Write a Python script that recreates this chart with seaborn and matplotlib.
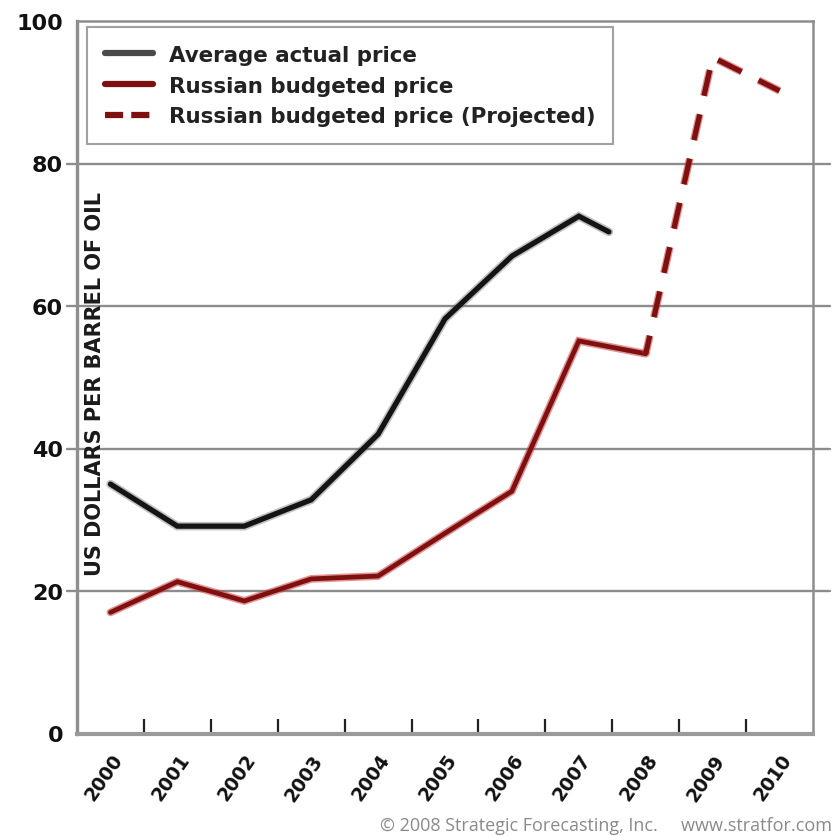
import matplotlib
matplotlib.use("Agg")
import matplotlib.pyplot as plt
import matplotlib.patheffects as pe
import matplotlib.transforms as mtransforms
from matplotlib import font_manager
import numpy as np
import pandas as pd
import seaborn as sns

# Oil price series (US dollars per barrel)
actual_years = [2000, 2001, 2002, 2003, 2004, 2005, 2006, 2007, 2007.45]
actual_price = [35.0, 29.1, 29.1, 32.8, 42.0, 58.2, 67.0, 72.6, 70.4]

budget_years = [2000, 2001, 2002, 2003, 2004, 2005, 2006, 2007, 2008]
budget_price = [17.0, 21.3, 18.6, 21.7, 22.1, 28.1, 34.0, 55.1, 53.3]

projected_years = [2008, 2009, 2010]
projected_price = [53.3, 94.9, 90.2]

year_labels = [str(y) for y in range(2000, 2011)]
y_ticks = [0, 20, 40, 60, 80, 100]
grid_levels = [20, 40, 60, 80]

sns.set_theme(style="white")
plt.rcParams["font.family"] = ["DejaVu Sans"]

installed = {f.name for f in font_manager.fontManager.ttflist}
credit_font = "Liberation Sans Narrow" if "Liberation Sans Narrow" in installed else "Open Sans"

fig = plt.figure(figsize=(8.35, 8.37), dpi=100)
ax = fig.add_axes([77 / 835, 1 - 734.5 / 837, 736 / 835, 712.5 / 837])

df_actual = pd.DataFrame({"year": actual_years, "price": actual_price})
df_budget = pd.DataFrame({"year": budget_years, "price": budget_price})
df_proj = pd.DataFrame({"year": projected_years, "price": projected_price})

black_fx = [pe.Stroke(linewidth=6.2, foreground="#666666", alpha=0.4),
            pe.Normal()]
red_fx = [pe.Stroke(linewidth=5.6, foreground="#cf3a3a", alpha=0.55),
          pe.Normal()]

sns.lineplot(data=df_actual, x="year", y="price", ax=ax, color="#141414",
             linewidth=3.8, estimator=None, sort=False, zorder=5,
             label="Average actual price")
ax.lines[-1].set_path_effects(black_fx)
ax.lines[-1].set_solid_joinstyle("miter")

sns.lineplot(data=df_budget, x="year", y="price", ax=ax, color="#7e1010",
             linewidth=3.4, estimator=None, sort=False, zorder=5,
             label="Russian budgeted price")
ax.lines[-1].set_path_effects(red_fx)
ax.lines[-1].set_solid_joinstyle("miter")

sns.lineplot(data=df_proj, x="year", y="price", ax=ax, color="#7e1010",
             linewidth=3.8, estimator=None, sort=False, zorder=5,
             label="Russian budgeted price (Projected)")
ax.lines[-1].set_linestyle((1.5, (5.0, 3.6)))
ax.lines[-1].set_path_effects(red_fx)
ax.lines[-1].set_dash_joinstyle("miter")

ax.set_xlim(1999.5, 2010.5)
ax.set_ylim(0, 100)

# horizontal reference lines, running slightly past the frame
for lvl in grid_levels:
    ax.axhline(lvl, xmin=-0.0136, xmax=1.023, clip_on=False,
               color="#8c8c8c", linewidth=1.7, zorder=1)

for side in ["left", "right", "top", "bottom"]:
    ax.spines[side].set_color("#8e8e8e")
    ax.spines[side].set_linewidth(1.8)
ax.spines["bottom"].set_linewidth(3.0)
ax.spines["bottom"].set_color("#9a9a9a")
ax.spines["left"].set_linewidth(2.4)

ax.set_yticks(y_ticks)
ax.set_yticklabels([str(v) for v in y_ticks], fontsize=16, fontweight="bold",
                   color="#111111")
ax.tick_params(axis="y", length=0, pad=10)

years = list(range(2000, 2011))
ax.set_xticks(years)
ax.set_xticklabels(year_labels, fontsize=13.5, fontweight="bold",
                   color="#111111", rotation=55, ha="right",
                   rotation_mode="anchor", va="center")
ax.tick_params(axis="x", which="major", length=0, pad=16)
shift = mtransforms.ScaledTranslation(8 / 100, 0, fig.dpi_scale_trans)
for lbl in ax.get_xticklabels():
    lbl.set_transform(lbl.get_transform() + shift)

ax.set_xticks([y + 0.5 for y in range(2000, 2010)], minor=True)
ax.tick_params(axis="x", which="minor", direction="in", length=11,
               width=1.6, color="#222222", bottom=True)

ax.set_xlabel("")
ax.set_ylabel("")
ax.text(0.0245, 0.492, "US DOLLARS PER BARREL OF OIL", transform=ax.transAxes,
        rotation=90, ha="center", va="center", fontsize=15,
        fontweight="bold", color="#1a1a1a", zorder=6)

leg = ax.legend(loc="upper left", bbox_to_anchor=(0.014, 0.992),
                fontsize=15.4, frameon=True, fancybox=False,
                handlelength=2.2, handletextpad=0.75, labelspacing=0.5,
                borderpad=0.85, borderaxespad=0)
for txt in leg.get_texts():
    txt.set_fontweight("bold")
    txt.set_color("#222222")
leg.get_frame().set_edgecolor("#8a8a8a")
leg.get_frame().set_linewidth(1.5)
leg_lines = leg.get_lines()
leg_lines[0].set_color("#4a4a4a")
for ln in leg_lines:
    ln.set_linewidth(4.5)
    ln.set_path_effects([])
leg_lines[2].set_linestyle((0, (2.9, 1.3)))

fig.text(0.997, 1 - 826 / 837,
         "\u00a9 2008 Strategic Forecasting, Inc.     www.stratfor.com",
         ha="right", va="center", fontsize=13, color="#8a8a8a",
         family=[credit_font, "DejaVu Sans"])

fig.savefig("out.png", dpi=100, facecolor="white")
